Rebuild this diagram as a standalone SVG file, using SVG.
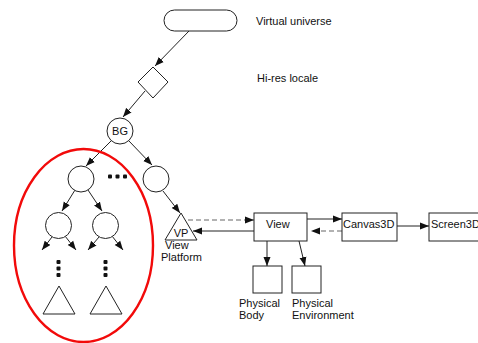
<svg xmlns="http://www.w3.org/2000/svg" width="478" height="343" viewBox="0 0 478 343">
  <style>
    .shape { fill: #fff; stroke: #222; stroke-width: 1; }
    .edge { fill: none; stroke: #222; stroke-width: 1; marker-end: url(#arrow); }
    .dash { fill: none; stroke: #666; stroke-width: 1.2; stroke-dasharray: 5 3; marker-end: url(#arrow); }
    .lbl { font-family: "Liberation Sans", Arial, sans-serif; font-size: 11px; fill: #111; }
    .dot { fill: #111; }
  </style>
  <defs>
    <marker id="arrow" markerUnits="userSpaceOnUse" markerWidth="10" markerHeight="8" refX="9" refY="4" orient="auto">
      <path d="M0,0.5 L9,4 L0,7.5 Z" fill="#111"/>
    </marker>
  </defs>

  <rect width="478" height="343" fill="#fff"/>

  <!-- connectors -->
  <g id="connectors">
    <line class="edge" x1="189" y1="31" x2="155" y2="66"/>
    <line class="edge" x1="145" y1="91" x2="123" y2="117"/>
    <line class="edge" x1="111" y1="141" x2="86" y2="166"/>
    <line class="edge" x1="129" y1="141" x2="152" y2="165"/>
    <line class="edge" x1="75" y1="190" x2="62" y2="211"/>
    <line class="edge" x1="88" y1="190" x2="102" y2="211"/>
    <line class="edge" x1="52" y1="237" x2="42" y2="250"/>
    <line class="edge" x1="65" y1="236" x2="76" y2="250"/>
    <line class="edge" x1="99" y1="237" x2="88" y2="250"/>
    <line class="edge" x1="112" y1="236" x2="123" y2="250"/>
    <line class="edge" x1="163" y1="191" x2="180" y2="213"/>
    <line class="dash" x1="188" y1="220" x2="254" y2="220"/>
    <line class="edge" x1="254" y1="231" x2="193" y2="231"/>
    <line class="edge" x1="307" y1="219" x2="342" y2="219"/>
    <line class="dash" x1="342" y1="231" x2="311" y2="231"/>
    <line class="edge" x1="397" y1="226" x2="429" y2="226"/>
    <line class="edge" x1="267" y1="241" x2="267" y2="266"/>
    <line class="edge" x1="299" y1="241" x2="305" y2="266"/>
  </g>

  <g id="virtual-universe">
    <rect class="shape" x="164" y="10" width="73" height="21" rx="10.5"/>
    <text class="lbl" x="256" y="25">Virtual universe</text>
  </g>

  <g id="hi-res-locale">
    <path class="shape" d="M153,67 L168,82 L153,98 L138,82 Z"/>
    <text class="lbl" x="257" y="82">Hi-res locale</text>
  </g>

  <g id="bg">
    <circle class="shape" cx="120" cy="131" r="13"/>
    <text class="lbl" x="120" y="135" text-anchor="middle">BG</text>
  </g>

  <g id="group-left">
    <circle class="shape" cx="81" cy="179" r="13"/>
  </g>
  <g id="group-dots">
    <rect class="dot" x="108" y="174.5" width="4" height="4" rx="1"/>
    <rect class="dot" x="115.5" y="174.5" width="4" height="4" rx="1"/>
    <rect class="dot" x="123" y="174.5" width="4" height="4" rx="1"/>
  </g>
  <g id="group-right">
    <circle class="shape" cx="156" cy="179" r="13"/>
  </g>

  <g id="leaf-left">
    <circle class="shape" cx="58.5" cy="225.5" r="13"/>
    <rect class="dot" x="56.5" y="260" width="4" height="4" rx="1"/>
    <rect class="dot" x="56.5" y="266.5" width="4" height="4" rx="1"/>
    <rect class="dot" x="56.5" y="273" width="4" height="4" rx="1"/>
    <path class="shape" d="M59,286 L75,314 L43,314 Z"/>
  </g>
  <g id="leaf-right">
    <circle class="shape" cx="105.5" cy="225.5" r="13"/>
    <rect class="dot" x="103.5" y="260" width="4" height="4" rx="1"/>
    <rect class="dot" x="103.5" y="266.5" width="4" height="4" rx="1"/>
    <rect class="dot" x="103.5" y="273" width="4" height="4" rx="1"/>
    <path class="shape" d="M106,286 L122,314 L90,314 Z"/>
  </g>

  <g id="selection">
    <ellipse cx="83.5" cy="245.5" rx="69.5" ry="96.5" fill="none" stroke="#f20a0a" stroke-width="2.4"/>
  </g>

  <g id="view-platform">
    <path class="shape" d="M181,213 L197,240 L165,240 Z"/>
    <text class="lbl" x="181" y="237" text-anchor="middle">VP</text>
    <text class="lbl" x="165" y="249">View</text>
    <text class="lbl" x="161" y="261">Platform</text>
  </g>

  <g id="view">
    <rect class="shape" x="254" y="213" width="53" height="28"/>
    <text class="lbl" x="266" y="228">View</text>
  </g>

  <g id="canvas3d">
    <rect class="shape" x="342" y="213" width="55" height="28"/>
    <text class="lbl" x="343" y="228">Canvas3D</text>
  </g>

  <g id="screen3d">
    <rect class="shape" x="429" y="213" width="60" height="28"/>
    <text class="lbl" x="431" y="228">Screen3D</text>
  </g>

  <g id="physical-body">
    <rect class="shape" x="253" y="266" width="29" height="27"/>
    <text class="lbl" x="239" y="307">Physical</text>
    <text class="lbl" x="239" y="319">Body</text>
  </g>

  <g id="physical-environment">
    <rect class="shape" x="292" y="266" width="29" height="27"/>
    <text class="lbl" x="292" y="307">Physical</text>
    <text class="lbl" x="292" y="319">Environment</text>
  </g>
</svg>
